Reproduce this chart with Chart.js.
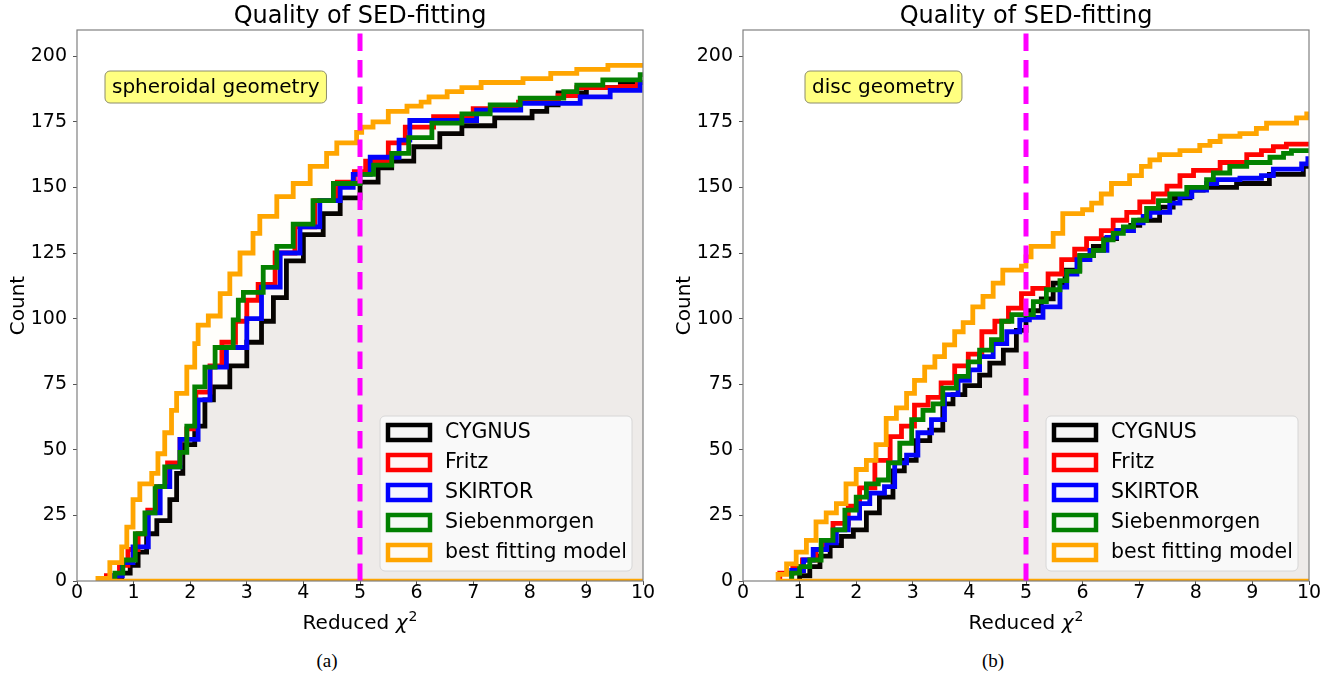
<!DOCTYPE html>
<html>
<head>
<meta charset="utf-8">
<script src="https://cdn.jsdelivr.net/npm/chart.js@4/dist/chart.umd.min.js"></script>
<style>
  html, body { margin: 0; padding: 0; background: #ffffff; }
  body { width: 1344px; height: 679px; position: relative; overflow: hidden; }
  .panel { position: absolute; top: 0; width: 660px; height: 640px; }
  .cap { position: absolute; top: 650px; width: 80px; text-align: center;
         font-family: "Liberation Serif", "DejaVu Serif", serif; font-size: 19px; color: #000; }
</style>
</head>
<body>
<div class="panel" style="left:0px"><canvas id="c1" width="660" height="640"></canvas></div>
<div class="panel" style="left:666px"><canvas id="c2" width="660" height="640"></canvas></div>
<div class="cap" style="left:287px">(a)</div>
<div class="cap" style="left:953px">(b)</div>
<script>
// ---------------- data ----------------
const seriesNames = ['CYGNUS', 'Fritz', 'SKIRTOR', 'Siebenmorgen', 'best fitting model'];
const xTicks = [0, 1, 2, 3, 4, 5, 6, 7, 8, 9, 10];
const yTicks = [0, 25, 50, 75, 100, 125, 150, 175, 200];
const chi2Threshold = 5;
const panelTitles = ['Quality of SED-fitting', 'Quality of SED-fitting'];
const geometryLabels = ['spheroidal geometry', 'disc geometry'];

// spheroidal geometry: cumulative counts (x = reduced chi2 where count steps up, y = new count)
const sphBlackX = [0.72, 0.72, 0.79, 0.94, 1.08, 1.23, 1.41, 1.64, 1.76, 1.87, 2.08, 2.26, 2.41, 2.7, 3.0, 3.26, 3.47, 3.7, 4.0, 4.35, 4.65, 5.0, 5.32, 5.56, 5.95, 6.41, 6.8, 7.38, 8.04, 8.3, 8.5, 9.0, 9.6];
const sphBlackY = [0, 1.5, 3, 6, 11, 18, 23, 31, 41, 52, 59, 69, 74, 82, 91, 99, 108, 122, 132, 140, 146, 152, 157.5, 160, 165.5, 170.5, 173.5, 176.5, 179, 181.5, 186, 188, 190];
const sphFritzX = [0.52, 0.52, 0.75, 0.9, 1.08, 1.25, 1.41, 1.6, 1.82, 1.94, 2.1, 2.35, 2.56, 2.8, 3.0, 3.2, 3.5, 3.85, 4.2, 4.6, 4.9, 5.1, 5.5, 5.8, 6.3, 7.0, 7.8, 8.5, 8.83, 9.6, 9.9];
const sphFritzY = [0, 2, 6, 12, 18, 27, 36, 45, 54, 58, 72, 82, 91, 99, 107, 113, 125, 135, 145, 152, 156, 160, 167, 173, 177, 180, 182.5, 185, 188, 188.5, 190];
const sphSkirtorX = [0.61, 0.61, 0.8, 0.99, 1.26, 1.47, 1.64, 1.82, 2.14, 2.35, 2.64, 3.0, 3.26, 3.59, 3.94, 4.29, 4.65, 4.88, 5.18, 5.69, 5.88, 7.06, 7.84, 8.89, 9.42, 9.95];
const sphSkirtorY = [0, 2, 7, 13, 26, 36, 43.5, 54, 69, 81.5, 89, 100, 112, 125, 135, 145, 150, 155, 161.5, 168, 175.5, 179.5, 182, 184.5, 187, 190];
const sphSiebenX = [0.67, 0.67, 0.81, 1.03, 1.2, 1.38, 1.55, 1.82, 1.94, 2.08, 2.26, 2.44, 2.76, 2.85, 2.94, 3.29, 3.53, 3.82, 4.17, 4.53, 5.0, 5.24, 5.56, 5.86, 6.27, 6.8, 7.3, 7.83, 8.6, 8.83, 9.29, 9.95];
const sphSiebenY = [0, 3, 8, 18, 26, 36, 43.5, 49, 59, 74, 81.5, 89, 99.5, 107, 110, 119.5, 127.5, 136, 145, 151.5, 155, 158.5, 163, 169, 174.5, 178, 181.5, 184, 186.5, 189, 191, 193];
const sphBestX = [0.37, 0.37, 0.58, 0.79, 0.88, 0.99, 1.11, 1.32, 1.43, 1.55, 1.67, 1.76, 1.94, 2.08, 2.14, 2.32, 2.53, 2.7, 2.88, 3.11, 3.23, 3.53, 3.82, 4.12, 4.41, 4.59, 4.94, 5.03, 5.23, 5.5, 5.83, 6.08, 6.22, 6.54, 6.8, 7.14, 7.88, 8.37, 8.83, 9.38];
const sphBestY = [0, 1, 7, 13, 20.5, 31, 37, 41, 48.5, 56.5, 65, 71.5, 81.5, 90.5, 97.5, 101, 109.5, 117, 125, 132.5, 139, 146.5, 151.5, 158, 163, 167, 171, 173, 175, 179, 181, 182.5, 184.5, 186.5, 188, 190, 191.5, 193.5, 195, 196.5];

// disc geometry
const discBlackX = [1.0, 1.0, 1.18, 1.36, 1.54, 1.74, 1.95, 2.18, 2.41, 2.65, 2.85, 3.06, 3.3, 3.53, 3.71, 3.92, 4.18, 4.36, 4.6, 4.83, 5.0, 5.27, 5.48, 5.69, 5.95, 6.19, 6.4, 6.6, 6.85, 7.01, 7.36, 7.6, 7.9, 8.13, 8.72, 9.3, 9.9];
const discBlackY = [0, 2, 5.5, 9.5, 13.5, 17, 19.5, 26, 32, 42, 46, 53.5, 57.5, 67.5, 71, 74.5, 78.5, 83, 88, 95.5, 103, 107.5, 113.5, 118.5, 124, 127.5, 130.5, 133.5, 135.5, 137.5, 142.5, 146, 149, 150, 151.5, 155, 158];
const discFritzX = [0.65, 0.65, 0.88, 1.05, 1.29, 1.41, 1.59, 1.86, 2.06, 2.33, 2.6, 2.8, 3.03, 3.27, 3.5, 3.74, 3.98, 4.22, 4.45, 4.69, 4.92, 5.12, 5.39, 5.63, 5.86, 6.07, 6.33, 6.54, 6.78, 7.01, 7.25, 7.49, 7.72, 7.96, 8.43, 8.9, 9.16, 9.37, 9.6];
const discFritzY = [0, 3, 5.5, 8, 12, 15.5, 22, 28.5, 35.5, 46, 55, 59, 67, 70, 75.5, 82, 86.5, 95, 99, 104, 109.5, 111.5, 117, 122.5, 126.5, 130.5, 133.5, 137.5, 140.5, 144.5, 147.5, 150.5, 154.5, 156.5, 159.5, 162.5, 164, 165.5, 166.5];
const discSkirtorX = [0.86, 0.86, 1.07, 1.24, 1.48, 1.65, 1.86, 2.06, 2.24, 2.5, 2.68, 2.89, 3.09, 3.33, 3.56, 3.8, 4.0, 4.18, 4.42, 4.66, 4.89, 5.06, 5.3, 5.6, 5.72, 5.9, 6.13, 6.43, 6.6, 6.9, 7.07, 7.19, 7.54, 7.72, 7.93, 8.19, 8.37, 8.78, 9.16, 9.37, 9.87, 9.98];
const discSkirtorY = [0, 4, 8, 12, 14.5, 19.5, 24, 29.5, 33.5, 36, 45, 48, 56.5, 61.5, 71, 76.5, 80.5, 85.5, 90.5, 95, 99.5, 100.5, 104.5, 112, 117, 122.5, 126, 131, 133.5, 136.5, 139, 140.5, 144, 146.5, 149, 151.5, 153, 153.5, 154.5, 157, 159, 161];
const discSiebenX = [0.86, 0.86, 1.0, 1.18, 1.38, 1.59, 1.8, 2.0, 2.18, 2.39, 2.57, 2.77, 2.98, 3.18, 3.36, 3.53, 3.77, 3.98, 4.18, 4.39, 4.57, 4.75, 5.13, 5.36, 5.6, 5.72, 5.95, 6.19, 6.37, 6.54, 6.72, 6.9, 7.13, 7.34, 7.54, 7.84, 8.19, 8.31, 8.6, 8.9, 9.31, 9.55, 9.69];
const discSiebenY = [0, 3, 5.5, 8, 15.5, 19.5, 27, 32, 37, 38.5, 45, 52.5, 61.5, 65, 67.5, 73.5, 78, 83.5, 88, 92, 99, 101.5, 106.5, 111, 114.5, 118, 124, 126, 130, 132.5, 135, 137.5, 142, 145, 147.5, 150, 153, 155.5, 158, 159.5, 161.5, 163, 164];
const discBestX = [0.62, 0.62, 0.77, 0.94, 1.12, 1.29, 1.47, 1.65, 1.82, 2.0, 2.18, 2.35, 2.53, 2.71, 2.89, 3.03, 3.21, 3.39, 3.56, 3.74, 3.89, 4.06, 4.24, 4.42, 4.59, 4.92, 5.0, 5.09, 5.48, 5.65, 6.0, 6.16, 6.33, 6.51, 6.83, 7.04, 7.19, 7.36, 7.72, 8.07, 8.25, 8.43, 8.78, 9.07, 9.25, 9.78, 9.96];
const discBestY = [0, 2.5, 6.5, 11, 15.5, 22.5, 26, 29.5, 37, 42.5, 46, 52, 62, 66, 71.5, 76.5, 81.5, 85.5, 90, 95, 98.5, 104.5, 108.5, 113.5, 118.5, 120, 123.5, 127.5, 132.5, 140, 141.5, 144, 147.5, 151.5, 154.5, 158, 160.5, 162.5, 164, 166, 167.5, 169.5, 170.5, 172.5, 174.5, 176.5, 178];

const xAxisEnd = 10.5; // histograms continue beyond the plotted range

// ---------------- styling ----------------
const seriesColors = ['#000000', '#ff0000', '#0000ff', '#008000', '#ffa500'];
const seriesFills = ['rgba(0,0,0,0.05)', 'rgba(255,0,0,0.02)', 'rgba(0,0,255,0.01)', 'rgba(0,128,0,0.006)', 'rgba(255,165,0,0.014)'];
const patchFills = ['rgba(0,0,0,0.04)', 'rgba(255,0,0,0.04)', 'rgba(0,0,255,0.04)', 'rgba(0,128,0,0.04)', 'rgba(255,165,0,0.04)'];
const FONT = '"DejaVu Sans", "Noto Sans", sans-serif';

function toPoints(xs, ys) {
  const pts = xs.map((x, i) => ({ x: x, y: ys[i] }));
  pts.push({ x: xAxisEnd, y: ys[ys.length - 1] });
  return pts;
}

function roundRect(ctx, x, y, w, h, r) {
  ctx.beginPath();
  ctx.moveTo(x + r, y);
  ctx.lineTo(x + w - r, y);
  ctx.arcTo(x + w, y, x + w, y + r, r);
  ctx.lineTo(x + w, y + h - r);
  ctx.arcTo(x + w, y + h, x + w - r, y + h, r);
  ctx.lineTo(x + r, y + h);
  ctx.arcTo(x, y + h, x, y + h - r, r);
  ctx.lineTo(x, y + r);
  ctx.arcTo(x, y, x + r, y, r);
  ctx.closePath();
}

const decoPlugin = {
  id: 'deco',
  afterDatasetsDraw(chart) {
    const a = chart.chartArea;
    const ctx = chart.ctx;
    ctx.save();
    ctx.strokeStyle = '#808080';
    ctx.lineWidth = 1.2;
    ctx.strokeRect(a.left, a.top, a.right - a.left, a.bottom - a.top);
    ctx.restore();
  },
  afterDraw(chart, args, o) {
    const a = chart.chartArea;
    const ctx = chart.ctx;
    const cx = (a.left + a.right) / 2;
    ctx.save();
    // title
    ctx.fillStyle = '#000';
    ctx.font = '24px ' + FONT;
    ctx.textAlign = 'center';
    ctx.textBaseline = 'alphabetic';
    ctx.fillText(o.title, cx, 23);
    // y axis title
    ctx.save();
    ctx.translate(19, (a.top + a.bottom) / 2);
    ctx.rotate(-Math.PI / 2);
    ctx.font = '20px ' + FONT;
    ctx.textAlign = 'center';
    ctx.textBaseline = 'middle';
    ctx.fillText('Count', 0, 0);
    ctx.restore();
    // x axis title: Reduced chi^2
    ctx.font = '20px ' + FONT;
    const t1 = 'Reduced ';
    const w1 = ctx.measureText(t1).width;
    ctx.font = 'italic 20px ' + FONT;
    const w2 = ctx.measureText('\u03c7').width;
    ctx.font = '14px ' + FONT;
    const w3 = ctx.measureText('2').width;
    let x0 = cx - (w1 + w2 + w3 + 1) / 2;
    const by = 629;
    ctx.textAlign = 'left';
    ctx.font = '20px ' + FONT;
    ctx.fillText(t1, x0, by);
    ctx.font = 'italic 20px ' + FONT;
    ctx.fillText('\u03c7', x0 + w1, by);
    ctx.font = '14px ' + FONT;
    ctx.fillText('2', x0 + w1 + w2 + 1, by - 8);
    // geometry label box
    ctx.font = '20px ' + FONT;
    const lw = ctx.measureText(o.label).width;
    const bx = a.left + o.labelOffset, byy = a.top + 41, bw = lw + 14, bh = 32;
    roundRect(ctx, bx, byy, bw, bh, 5);
    ctx.fillStyle = '#ffff80';
    ctx.fill();
    ctx.strokeStyle = '#8c8c6c';
    ctx.lineWidth = 1;
    ctx.stroke();
    ctx.fillStyle = '#000';
    ctx.textBaseline = 'middle';
    ctx.fillText(o.label, bx + 7, byy + bh / 2 + 1);
    // legend
    const lgW = 252, lgH = 155;
    const lgX = a.right - 11 - lgW, lgY = a.bottom - 10 - lgH;
    roundRect(ctx, lgX, lgY, lgW, lgH, 5);
    ctx.fillStyle = 'rgba(252,252,252,0.85)';
    ctx.fill();
    ctx.strokeStyle = '#d6d6d6';
    ctx.lineWidth = 1;
    ctx.stroke();
    ctx.font = '20.5px ' + FONT;
    seriesNames.forEach((name, i) => {
      const ry = lgY + 16 + i * 30;
      ctx.fillStyle = '#ffffff';
      ctx.fillRect(lgX + 8, ry - 7, 42, 15);
      ctx.fillStyle = patchFills[i];
      ctx.fillRect(lgX + 8, ry - 7, 42, 15);
      ctx.strokeStyle = seriesColors[i];
      ctx.lineWidth = 4.5;
      ctx.strokeRect(lgX + 8, ry - 7, 42, 15);
      ctx.fillStyle = '#000';
      ctx.textAlign = 'left';
      ctx.textBaseline = 'middle';
      ctx.fillText(name, lgX + 65, ry + 1);
    });
    ctx.restore();
  }
};

function makeChart(id, series, idx, labelOffset) {
  const lineDs = (pts, i) => ({
    label: seriesNames[i],
    data: pts,
    borderColor: seriesColors[i],
    backgroundColor: seriesFills[i],
    borderWidth: 4.8,
    stepped: 'before',
    fill: 'origin',
    pointRadius: 0,
    clip: 0,
    borderJoinStyle: 'miter'
  });
  const datasets = [
    { label: 'threshold', data: [{ x: chi2Threshold, y: 0 }, { x: chi2Threshold, y: 210 }],
      borderColor: '#ff00ff', borderWidth: 5, borderDash: [17.5, 9], pointRadius: 0, fill: false, clip: 0 },
    { label: 'baseline', data: [{ x: series[4][0].x, y: 0 }, { x: xAxisEnd, y: 0 }],
      borderColor: seriesColors[4], borderWidth: 4.5, pointRadius: 0, fill: false, clip: 0 },
    lineDs(series[4], 4),
    lineDs(series[3], 3),
    lineDs(series[2], 2),
    lineDs(series[1], 1),
    lineDs(series[0], 0)
  ];
  return new Chart(document.getElementById(id), {
    type: 'line',
    data: { datasets },
    options: {
      responsive: false,
      animation: false,
      devicePixelRatio: 1,
      layout: { padding: { left: 0, right: 17, top: 30, bottom: 0 } },
      plugins: {
        legend: { display: false },
        tooltip: { enabled: false },
        title: { display: false },
        deco: { title: panelTitles[idx], label: geometryLabels[idx], labelOffset: labelOffset }
      },
      scales: {
        x: {
          type: 'linear', min: 0, max: 10,
          afterBuildTicks: (s) => { s.ticks = xTicks.map(v => ({ value: v })); },
          afterFit: (s) => { s.height = 59; },
          grid: { display: true, drawOnChartArea: false, drawTicks: true, tickLength: 4, color: '#555', lineWidth: 1 },
          border: { display: false },
          ticks: { color: '#000', font: { family: FONT, size: 19 }, padding: -3, maxRotation: 0, autoSkip: false }
        },
        y: {
          type: 'linear', min: 0, max: 210,
          afterBuildTicks: (s) => { s.ticks = yTicks.map(v => ({ value: v })); },
          afterFit: (s) => { s.width = 77; },
          grid: { display: true, drawOnChartArea: false, drawTicks: true, tickLength: 4, color: '#555', lineWidth: 1 },
          border: { display: false },
          ticks: { color: '#000', font: { family: FONT, size: 19 }, padding: 6, autoSkip: false }
        }
      }
    },
    plugins: [decoPlugin]
  });
}

const sphSeries = [toPoints(sphBlackX, sphBlackY), toPoints(sphFritzX, sphFritzY), toPoints(sphSkirtorX, sphSkirtorY), toPoints(sphSiebenX, sphSiebenY), toPoints(sphBestX, sphBestY)];
const discSeries = [toPoints(discBlackX, discBlackY), toPoints(discFritzX, discFritzY), toPoints(discSkirtorX, discSkirtorY), toPoints(discSiebenX, discSiebenY), toPoints(discBestX, discBestY)];

makeChart('c1', sphSeries, 0, 28);
makeChart('c2', discSeries, 1, 62);
</script>
</body>
</html>
